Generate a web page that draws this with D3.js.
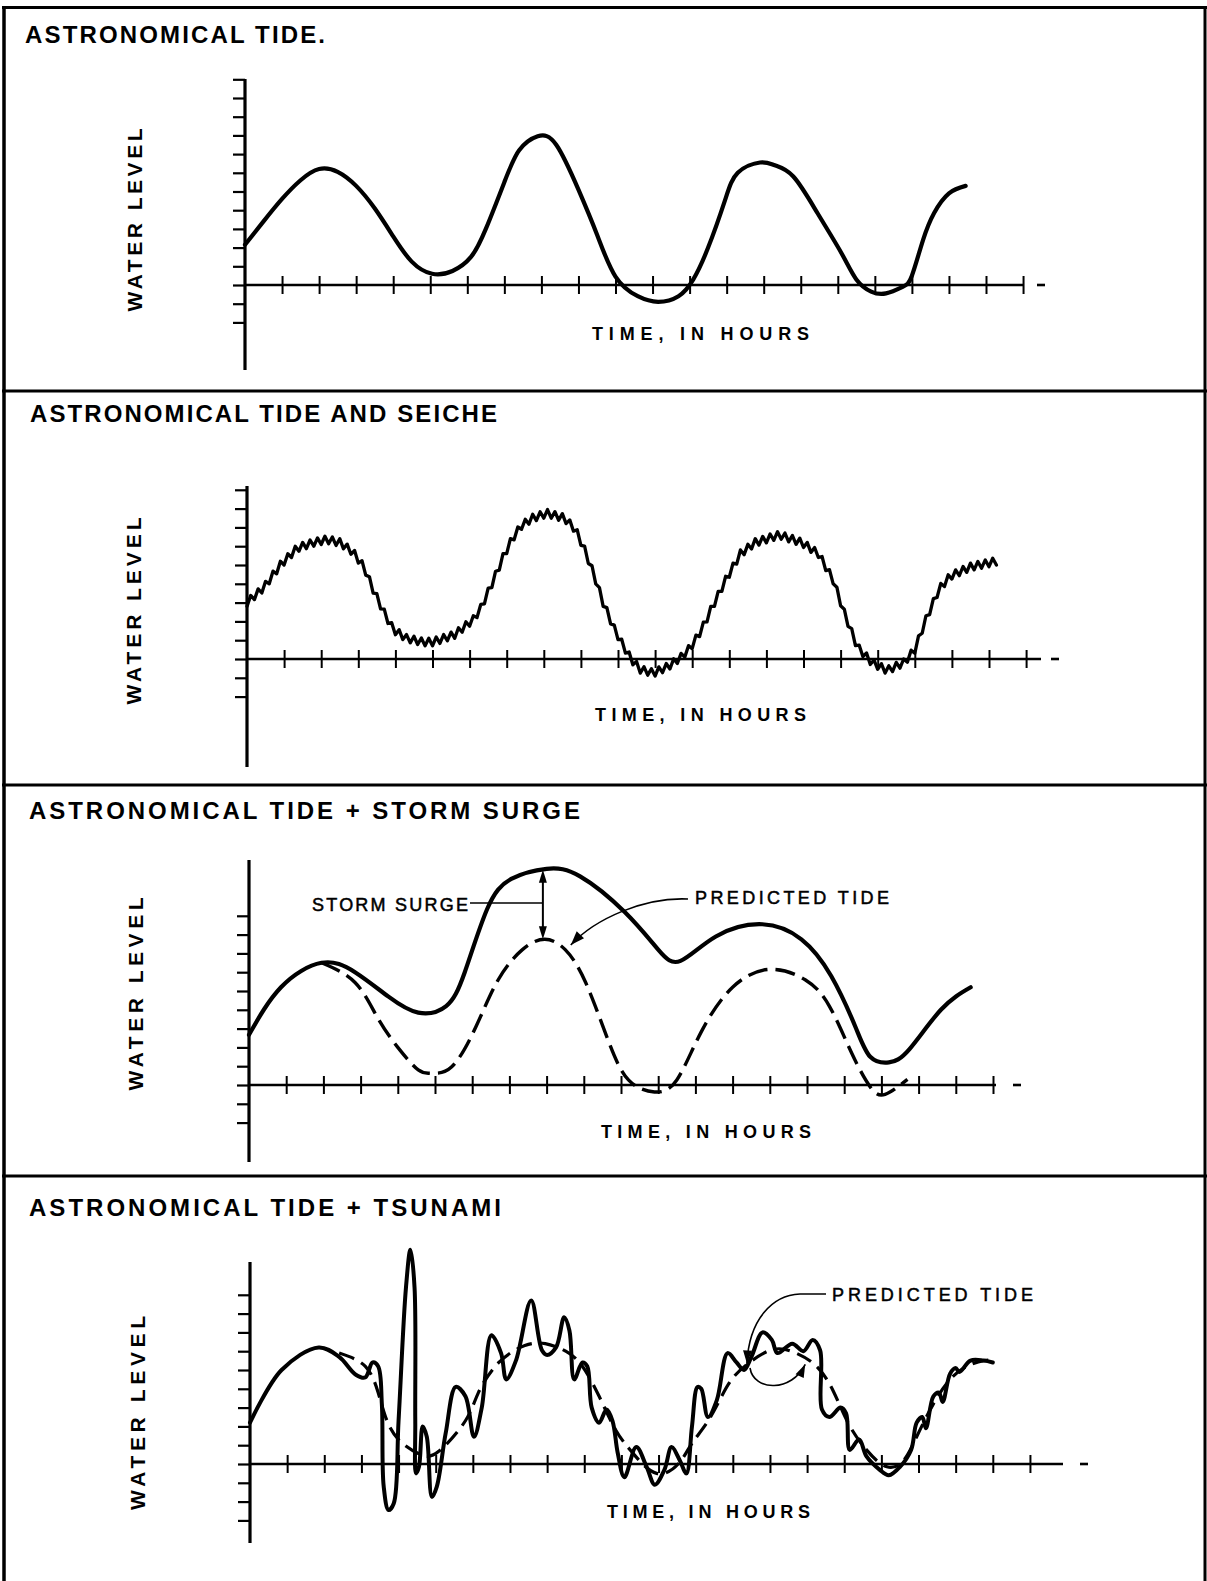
<!DOCTYPE html>
<html><head><meta charset="utf-8">
<script src="https://cdn.jsdelivr.net/npm/d3@7"></script>
<style>body{margin:0;background:#fff}svg{display:block}</style>
</head><body>
<svg id="c" width="1207" height="1581"></svg>
<script>
// ---------- text ----------
const panelTitles = ["ASTRONOMICAL TIDE.", "ASTRONOMICAL TIDE AND SEICHE", "ASTRONOMICAL TIDE + STORM SURGE", "ASTRONOMICAL TIDE + TSUNAMI"];
const yAxisLabel = "WATER LEVEL";
const xAxisLabel = "TIME, IN HOURS";
const surgeLabel = "STORM SURGE";
const predictedLabel = "PREDICTED TIDE";

// ---------- panel 1 : astronomical tide (hours, level in tick units) ----------
const tideHours  = [0,0.5,1,1.5,2,2.5,3,3.5,4,4.5,5.05,5.6,6.1,6.5,7,7.4,7.9,8.4,9,9.5,10,10.6,11.15,11.7,12.1,12.5,12.95,13.3,13.9,14.3,14.8,15.45,16.1,16.5,16.9,17.3,17.75,18,18.3,18.6,19,19.45];
const tideLevels = [2.15,3.4,4.6,5.6,6.2,6.05,5.3,4.1,2.6,1.25,0.6,0.75,1.5,3.0,5.5,7.2,7.95,7.5,5.1,2.7,0.45,-0.6,-0.9,-0.6,0.3,2.0,4.5,6.0,6.55,6.4,5.8,3.85,1.7,0.3,-0.35,-0.45,-0.1,0.5,2.4,3.85,4.9,5.3];

// ---------- panel 2 : tide + seiche, level every 0.1 hour ----------
const seicheStepHours = 0.1;
const seicheLevels = [
 2.8,3.38,3.16,3.73,3.51,4.13,4.0,4.67,4.53,5.2,
 5.0,5.6,5.4,6.0,5.73,6.2,5.87,6.33,6.0,6.44,
 6.09,6.53,6.13,6.49,6.04,6.4,5.86,6.11,5.57,5.77,
 5.1,5.23,4.46,4.38,3.5,3.48,2.67,2.65,1.89,1.93,
 1.29,1.56,1.03,1.3,0.86,1.21,0.77,1.12,0.7,1.1,
 0.7,1.17,0.83,1.3,0.97,1.43,1.1,1.66,1.42,1.98,
 1.74,2.3,2.2,2.9,2.93,3.77,3.8,4.67,4.73,5.6,
 5.6,6.4,6.34,7.02,6.9,7.43,7.17,7.7,7.36,7.83,
 7.49,7.95,7.49,7.84,7.38,7.73,7.2,7.4,6.8,6.88,
 6.04,6.0,5.08,4.96,4.0,3.8,2.8,2.73,1.87,1.8,
 1.03,1.05,0.31,0.37,-0.31,-0.13,-0.75,-0.41,-0.86,-0.52,
 -0.91,-0.42,-0.73,-0.24,-0.53,0.01,-0.24,0.3,0.1,0.71,
 0.55,1.27,1.19,1.96,1.98,2.8,2.8,3.6,3.6,4.4,
 4.35,5.1,5.05,5.8,5.55,6.1,5.85,6.4,6.06,6.52,
 6.18,6.65,6.31,6.77,6.37,6.7,6.23,6.57,6.1,6.43,
 5.93,6.2,5.67,5.93,5.4,5.45,4.7,4.75,4.0,3.82,
 2.83,2.65,1.74,1.62,0.71,0.74,0.13,0.32,-0.29,-0.05,
 -0.55,-0.25,-0.75,-0.36,-0.67,-0.18,-0.49,0.0,-0.17,0.47,
 0.3,1.23,1.37,2.3,2.36,3.21,3.27,4.02,3.85,4.48,
 4.25,4.74,4.43,4.92,4.61,5.1,4.74,5.19,4.83,5.27,
 4.91,5.36,5.0];

// ---------- panel 3 : tide + storm surge ----------
const surgeHours  = [0,0.86,1.95,2.85,3.75,4.55,5.3,5.8,6.4,7.05,8.0,8.9,10.1,11.0,11.6,12.55,13.8,14.85,15.65,16.3,16.7,17.2,17.75,18.6,19.4];
const surgeLevels = [2.67,5.2,6.5,6.0,4.7,3.85,4.2,6.0,9.35,10.96,11.5,11.1,9.2,7.2,6.6,7.9,8.55,7.75,5.8,3.1,1.5,1.2,1.9,4.0,5.2];
const surgePredHours  = [1.95,2.85,3.45,4.0,4.55,4.9,5.45,6.1,6.7,7.35,7.95,8.5,9.05,9.65,10.2,10.9,11.5,12.15,13.0,14.0,14.95,15.6,16.2,16.7,17.1,17.7];
const surgePredLevels = [6.5,5.45,3.6,2.0,0.8,0.63,0.97,3.1,5.6,7.2,7.75,7.2,5.45,2.4,0.27,-0.37,0.27,2.8,5.2,6.15,5.6,4.2,1.7,-0.1,-0.5,0.3];

// ---------- panel 4 : tide + tsunami ----------
const tsunamiHours = [0,0.85,1.85,2.4,2.85,3.1,3.3,3.45,3.55,3.6,
 3.73,3.87,4.0,4.2,4.32,4.43,4.45,4.47,4.55,4.65,
 4.76,4.9,5.03,5.27,5.54,5.8,6.03,6.24,6.5,6.76,
 6.9,7.16,7.57,7.86,8.0,8.24,8.46,8.6,8.73,8.95,
 9.08,9.2,9.4,9.6,9.76,9.9,10.08,10.4,10.68,10.9,
 11.16,11.35,11.57,11.75,11.9,12.05,12.15,12.33,12.57,12.86,
 13.1,13.3,13.5,13.8,14.05,14.2,14.6,14.9,15.15,15.35,
 15.4,15.6,15.9,16.05,16.15,16.4,16.6,16.95,17.2,17.5,
 17.8,17.95,18.1,18.2,18.4,18.55,18.65,18.85,19.0,19.1,
 19.4,19.75,20.0];
const tsunamiLevels = [2.2,5.0,6.2,5.7,4.75,4.6,5.4,5.2,3.2,-1.2,
 -2.45,-2.1,2.3,9.4,11.4,9.4,2.3,-0.5,-0.15,2.0,
 1.45,-1.75,-1.2,1.65,4.1,3.6,1.45,3.0,6.85,5.9,
 4.5,5.5,8.7,6.05,5.8,6.2,7.8,7.1,4.5,5.4,
 5.2,3.0,2.2,2.9,2.3,0.6,-0.7,0.9,-0.15,-1.1,
 -0.3,0.9,0.2,-0.5,2.0,4.1,4.0,2.5,3.4,5.9,
 5.4,5.0,5.7,7.0,6.6,5.9,6.4,6.0,6.6,6.05,
 2.9,2.5,3.0,2.7,0.75,1.3,0.4,-0.3,-0.6,-0.15,
 0.75,2.2,2.5,1.9,3.6,3.8,3.3,4.8,5.1,4.9,
 5.5,5.5,5.4];
const tsunamiPredHours  = [2.4,3.1,3.45,3.65,4.0,4.6,5.1,5.8,6.15,6.7,7.4,7.95,8.5,8.95,9.4,9.85,10.3,10.95,11.55,11.9,12.4,12.9,13.45,14.1,14.7,15.25,15.7,16.1,16.6,17.15,17.6,17.95,18.4,18.85,19.3,19.75,20.0];
const tsunamiPredLevels = [5.9,5.2,3.8,2.5,1.3,0.5,0.7,2.3,3.8,5.4,6.3,6.4,6.0,5.2,3.6,1.8,0.6,-0.5,0.05,1.1,2.5,4.3,5.4,6.1,5.9,5.2,3.9,2.2,0.75,-0.15,0.2,1.45,3.2,4.5,5.2,5.5,5.5];

// ---------- layout ----------
const W = 1207, H = 1581;
const layout = [
 {x0:245, zeroY:285, ux:37.05, uy:18.7, tickMin:-2, tickMax:11, xTicks:21, axisTop:79, axisBottom:370, axisEnd:1023, dashX:1037,
  title:{x:25,y:43,w:300}, time:{x:592,y:340,w:217}, water:{x:142,y:220,w:183}},
 {x0:247, zeroY:659, ux:37.1, uy:18.8, tickMin:-2, tickMax:9, xTicks:21, axisTop:486, axisBottom:767, axisEnd:1041, dashX:1051,
  title:{x:30,y:422,w:467}, time:{x:595,y:721,w:211}, water:{x:141,y:611,w:187}},
 {x0:249, zeroY:1085, ux:37.2, uy:18.8, tickMin:-2, tickMax:9, xTicks:20, axisTop:860, axisBottom:1162, axisEnd:996, dashX:1013,
  title:{x:29,y:819,w:551}, time:{x:601,y:1138,w:210}, water:{x:143,y:994,w:193}},
 {x0:250, zeroY:1464, ux:37.14, uy:18.8, tickMin:-3, tickMax:9, xTicks:21, axisTop:1262, axisBottom:1543, axisEnd:1063, dashX:1080,
  title:{x:29,y:1216,w:472}, time:{x:607,y:1518,w:203}, water:{x:145,y:1413,w:194}}
];
const dividers = [391, 785, 1176];
const FONT = "'Liberation Sans', Arial, sans-serif";

const svg = d3.select("#c");
svg.append("rect").attr("width", W).attr("height", H).attr("fill", "#fff");

// frame
const frame = svg.append("g").attr("stroke", "#000").attr("fill", "none");
frame.append("line").attr("x1", 4).attr("x2", 4).attr("y1", 6).attr("y2", H).attr("stroke-width", 3.5);
frame.append("line").attr("x1", 1205).attr("x2", 1205).attr("y1", 6).attr("y2", H).attr("stroke-width", 3);
frame.append("line").attr("x1", 2).attr("x2", 1207).attr("y1", 7.5).attr("y2", 7.5).attr("stroke-width", 3);
dividers.forEach(y => frame.append("line").attr("x1", 2).attr("x2", 1207).attr("y1", y).attr("y2", y).attr("stroke-width", 3));

function arrowHead(g, tip, from, len = 12, half = 4.5) {
  const dx = tip[0] - from[0], dy = tip[1] - from[1], d = Math.hypot(dx, dy);
  const ux = dx / d, uy = dy / d;
  const bx = tip[0] - ux * len, by = tip[1] - uy * len;
  g.append("path")
    .attr("d", `M${tip[0]},${tip[1]}L${bx - uy * half},${by + ux * half}L${bx + uy * half},${by - ux * half}Z`)
    .attr("fill", "#000");
}

const scales = layout.map((p, i) => {
  const g = svg.append("g");
  const x = d3.scaleLinear().domain([0, p.xTicks]).range([p.x0, p.x0 + p.xTicks * p.ux]);
  const y = d3.scaleLinear().domain([0, 1]).range([p.zeroY, p.zeroY - p.uy]);

  g.append("text").attr("x", p.title.x).attr("y", p.title.y)
    .attr("font-family", FONT).attr("font-weight", "bold").attr("font-size", 24)
    .attr("textLength", p.title.w).attr("lengthAdjust", "spacing")
    .text(panelTitles[i]);

  g.append("line").attr("x1", p.x0).attr("x2", p.x0).attr("y1", p.axisTop).attr("y2", p.axisBottom)
    .attr("stroke", "#000").attr("stroke-width", 3.2);
  const ya = g.append("g").attr("transform", `translate(${p.x0},0)`)
    .call(d3.axisLeft(y).tickValues(d3.range(p.tickMin, p.tickMax + 1)).tickSize(12).tickSizeOuter(0).tickFormat(""));
  ya.select(".domain").remove();
  ya.selectAll(".tick line").attr("stroke", "#000").attr("stroke-width", 2.2);

  g.append("line").attr("x1", p.x0).attr("x2", p.axisEnd).attr("y1", p.zeroY).attr("y2", p.zeroY)
    .attr("stroke", "#000").attr("stroke-width", 2.6);
  g.append("line").attr("x1", p.dashX).attr("x2", p.dashX + 8).attr("y1", p.zeroY).attr("y2", p.zeroY)
    .attr("stroke", "#000").attr("stroke-width", 2.6);
  const xa = g.append("g").attr("transform", `translate(0,${p.zeroY})`)
    .call(d3.axisBottom(x).tickValues(d3.range(1, p.xTicks + 1)).tickSize(9).tickSizeOuter(0).tickFormat(""));
  xa.select(".domain").remove();
  xa.selectAll(".tick line").attr("y1", -9).attr("stroke", "#000").attr("stroke-width", 2);

  g.append("text").attr("x", p.time.x).attr("y", p.time.y)
    .attr("font-family", FONT).attr("font-weight", "bold").attr("font-size", 18)
    .attr("textLength", p.time.w).attr("lengthAdjust", "spacing").text(xAxisLabel);
  g.append("text").attr("transform", `translate(${p.water.x},${p.water.y}) rotate(-90)`)
    .attr("text-anchor", "middle")
    .attr("font-family", FONT).attr("font-weight", "bold").attr("font-size", 21)
    .attr("textLength", p.water.w).attr("lengthAdjust", "spacing").text(yAxisLabel);

  return {g, x, y};
});

function drawCurve(s, hours, levels, opts) {
  const pts = hours.map((h, k) => [h, levels[k]]);
  const curve = opts.curve || d3.curveCatmullRom.alpha(0.5);
  const line = d3.line().x(d => s.x(d[0])).y(d => s.y(d[1])).curve(curve);
  const path = s.g.append("path").datum(pts).attr("d", line)
    .attr("fill", "none").attr("stroke", "#000").attr("stroke-width", opts.width)
    .attr("stroke-linejoin", "round").attr("stroke-linecap", "round");
  if (opts.dash) path.attr("stroke-dasharray", opts.dash).attr("stroke-linecap", "butt");
  return path;
}

// panel 1
drawCurve(scales[0], tideHours, tideLevels, {width: 4.2, curve: d3.curveNatural});

// panel 2
drawCurve(scales[1], seicheLevels.map((v, k) => k * seicheStepHours), seicheLevels, {width: 3.3, curve: d3.curveLinear});

// panel 3
drawCurve(scales[2], surgePredHours, surgePredLevels, {width: 3.4, dash: "20,8", curve: d3.curveNatural});
drawCurve(scales[2], surgeHours, surgeLevels, {width: 4.2, curve: d3.curveNatural});
{
  const s = scales[2], g = s.g;
  g.append("text").attr("x", 312).attr("y", 911)
    .attr("font-family", FONT).attr("font-size", 18).attr("stroke", "#000").attr("stroke-width", 0.5)
    .attr("textLength", 156).attr("lengthAdjust", "spacing").text(surgeLabel);
  const ax = s.x(7.9), yTop = s.y(11.45), yBot = s.y(7.75);
  g.append("line").attr("x1", 470).attr("x2", ax).attr("y1", 903).attr("y2", 903)
    .attr("stroke", "#000").attr("stroke-width", 1.6);
  g.append("line").attr("x1", ax).attr("x2", ax).attr("y1", yTop + 6).attr("y2", yBot - 6)
    .attr("stroke", "#000").attr("stroke-width", 2);
  arrowHead(g, [ax, yTop], [ax, yTop + 20], 13, 4);
  arrowHead(g, [ax, yBot], [ax, yBot - 20], 13, 4);

  g.append("text").attr("x", 695).attr("y", 904)
    .attr("font-family", FONT).attr("font-size", 18).attr("stroke", "#000").attr("stroke-width", 0.5)
    .attr("textLength", 194).attr("lengthAdjust", "spacing").text(predictedLabel);
  const tip = [s.x(8.65), s.y(7.45)];
  const c2 = [596, 918];
  g.append("path").attr("d", `M688,899 C645,897 ${c2[0]},${c2[1]} ${tip[0]},${tip[1]}`)
    .attr("fill", "none").attr("stroke", "#000").attr("stroke-width", 1.6);
  arrowHead(g, tip, c2, 14, 5);
}

// panel 4
drawCurve(scales[3], tsunamiPredHours, tsunamiPredLevels, {width: 3.2, dash: "16,8", curve: d3.curveNatural});
drawCurve(scales[3], tsunamiHours, tsunamiLevels, {width: 4});
{
  const s = scales[3], g = s.g;
  g.append("text").attr("x", 832).attr("y", 1301)
    .attr("font-family", FONT).attr("font-size", 18).attr("stroke", "#000").attr("stroke-width", 0.5)
    .attr("textLength", 201).attr("lengthAdjust", "spacing").text(predictedLabel);
  const tip1 = [s.x(13.38), s.y(5.35)];
  const c1 = [749, 1320];
  g.append("path").attr("d", `M826,1294 L800,1294 C772,1295 ${c1[0]},${c1[1]} ${tip1[0]},${tip1[1]}`)
    .attr("fill", "none").attr("stroke", "#000").attr("stroke-width", 1.6);
  arrowHead(g, tip1, c1, 13, 4.5);
  const tip2 = [s.x(14.95), s.y(5.3)];
  const c3 = [792, 1392];
  g.append("path").attr("d", `M750,1368 C754,1392 ${c3[0]},${c3[1]} ${tip2[0]},${tip2[1]}`)
    .attr("fill", "none").attr("stroke", "#000").attr("stroke-width", 1.6);
  arrowHead(g, tip2, c3, 13, 4.5);
}
</script>
</body></html>
